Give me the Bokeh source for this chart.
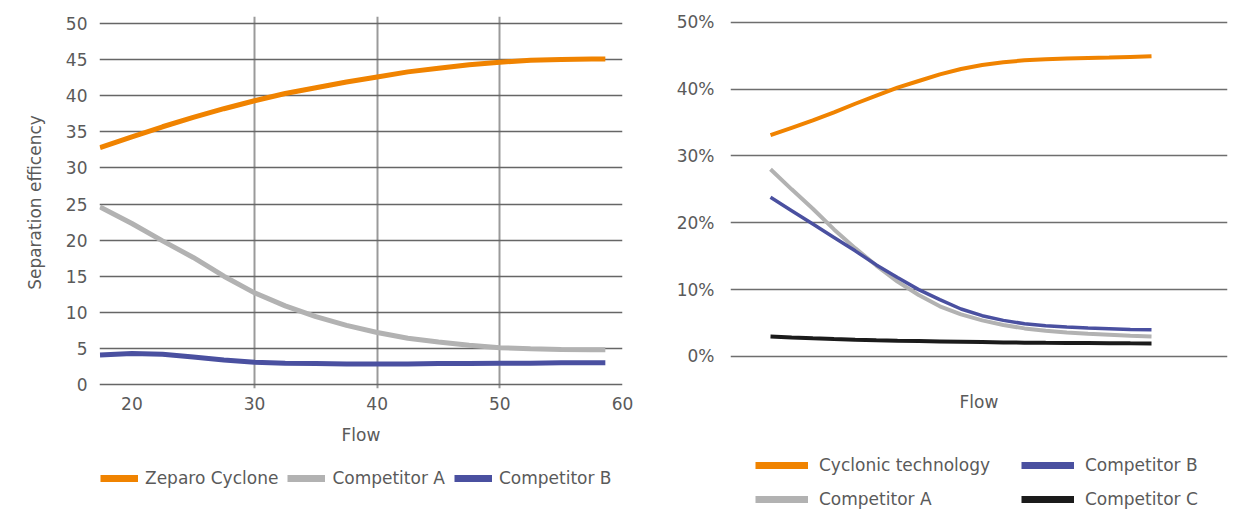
from bokeh.plotting import figure
from bokeh.models import Legend, LegendItem, FixedTicker, PrintfTickFormatter
from bokeh.layouts import row, column
from bokeh.embed import file_html
from bokeh.resources import INLINE

FONT = "DejaVu Sans"
TXT = "#5a5a5a"
ORANGE = "#f08300"
GRAY = "#b2b2b2"
BLUE = "#4a50a0"
BLACK = "#1b1b1b"

# ---------------- left chart data ----------------
left_flow = [17.4, 20, 22.5, 25, 27.5, 30, 32.5, 35, 37.5, 40, 42.5, 45, 47.5, 50, 52.5, 55, 57.5, 58.6]
left_zeparo = [32.8, 34.3, 35.7, 37.0, 38.2, 39.3, 40.3, 41.1, 41.9, 42.6, 43.3, 43.8, 44.3, 44.65, 44.9, 45.0, 45.1, 45.1]
left_comp_a = [24.6, 22.3, 19.9, 17.6, 15.0, 12.7, 10.9, 9.4, 8.2, 7.2, 6.4, 5.9, 5.45, 5.1, 4.95, 4.85, 4.8, 4.8]
left_comp_b = [4.1, 4.3, 4.2, 3.8, 3.4, 3.1, 2.95, 2.9, 2.85, 2.85, 2.85, 2.9, 2.9, 2.95, 2.95, 3.0, 3.0, 3.0]
left_yticks = [0, 5, 10, 15, 20, 25, 30, 35, 40, 45, 50]
left_xticks = [20, 30, 40, 50, 60]
left_xgrid = [30, 40, 50, 60]
left_labels = ["Zeparo Cyclone", "Competitor A", "Competitor B"]

# ---------------- right chart data ----------------
right_flow = [1, 1.5, 2, 2.5, 3, 3.5, 4, 4.5, 5, 5.5, 6, 6.5, 7, 7.5, 8, 8.5, 9, 9.5, 10]
right_cyclonic = [33.1, 34.2, 35.3, 36.5, 37.8, 39.0, 40.2, 41.2, 42.2, 43.0, 43.6, 44.0, 44.3, 44.45, 44.55, 44.65, 44.7, 44.8, 44.9]
right_comp_a = [28.0, 25.0, 22.1, 19.0, 16.2, 13.6, 11.2, 9.2, 7.5, 6.3, 5.4, 4.7, 4.2, 3.85, 3.6, 3.4, 3.25, 3.1, 3.0]
right_comp_b = [23.8, 21.8, 19.8, 17.8, 15.8, 13.7, 11.8, 10.0, 8.5, 7.1, 6.1, 5.4, 4.9, 4.6, 4.4, 4.25, 4.15, 4.05, 4.0]
right_comp_c = [3.0, 2.85, 2.72, 2.6, 2.5, 2.42, 2.35, 2.3, 2.25, 2.2, 2.15, 2.1, 2.07, 2.04, 2.02, 2.0, 1.98, 1.96, 1.95]
right_yticks = [0, 10, 20, 30, 40, 50]
right_labels = ["Cyclonic technology", "Competitor A", "Competitor B", "Competitor C"]


def style_axis(ax):
    ax.axis_line_color = None
    ax.major_tick_line_color = None
    ax.minor_tick_line_color = None
    ax.major_label_text_font = FONT
    ax.major_label_text_font_size = "17px"
    ax.major_label_text_color = TXT
    ax.axis_label_text_font = FONT
    ax.axis_label_text_font_size = "17px"
    ax.axis_label_text_color = TXT
    ax.axis_label_text_font_style = "normal"


def style_legend(lg):
    lg.border_line_color = None
    lg.background_fill_alpha = 0
    lg.label_text_font = FONT
    lg.label_text_font_size = "17px"
    lg.label_text_color = TXT
    lg.padding = 0
    lg.margin = 0


def legend_figure(width, height, xs, series, colors, labels, **legend_kw):
    # a strip below a chart that only carries that chart's legend;
    # its lines are kept outside the visible range so only the swatches show
    lf = figure(width=width, height=height, x_range=(-1000, -999), y_range=(0, 1),
                x_axis_location=None, y_axis_location=None,
                output_backend="svg", toolbar_location=None, min_border=0)
    lf.grid.visible = False
    lf.outline_line_color = None
    items = []
    for ys, c, lab in zip(series, colors, labels):
        r = lf.line(xs, ys, line_color=c, line_width=7)
        items.append(LegendItem(label=lab, renderers=[r]))
    lg = Legend(items=items, **legend_kw)
    style_legend(lg)
    lf.add_layout(lg, "center")
    return lf


# ---------------- left figure ----------------
p1 = figure(width=660, height=470, x_range=(17.36, 60), y_range=(-0.55, 50.97),
            output_backend="svg", toolbar_location=None,
            min_border_left=99, min_border_right=38, min_border_top=16, min_border_bottom=82)
p1.outline_line_color = None
p1.line(left_flow, left_zeparo, line_color=ORANGE, line_width=5)
p1.line(left_flow, left_comp_a, line_color=GRAY, line_width=5)
p1.line(left_flow, left_comp_b, line_color=BLUE, line_width=5)

p1.xaxis.ticker = FixedTicker(ticks=left_xticks)
p1.yaxis.ticker = FixedTicker(ticks=left_yticks)
p1.xgrid.ticker = FixedTicker(ticks=left_xgrid)
p1.xgrid.grid_line_color = "#9a9a9a"
p1.xgrid.grid_line_width = 2
p1.ygrid.grid_line_color = "#666666"
p1.ygrid.grid_line_width = 1.5
for ax in (p1.xaxis[0], p1.yaxis[0]):
    style_axis(ax)
p1.xaxis.axis_label = "Flow"
p1.yaxis.axis_label = "Separation efficency"
p1.xaxis.major_label_standoff = 2
p1.xaxis.axis_label_standoff = 12
p1.yaxis.major_label_standoff = 6
p1.yaxis.axis_label_standoff = 18

# ---------------- right figure ----------------
p2 = figure(width=575, height=448, x_range=(0.055, 11.795), y_range=(-1.5, 51),
            output_backend="svg", toolbar_location=None,
            min_border_left=70, min_border_right=8, min_border_top=15, min_border_bottom=82)
p2.outline_line_color = None
p2.line(right_flow, right_cyclonic, line_color=ORANGE, line_width=4)
p2.line(right_flow, right_comp_a, line_color=GRAY, line_width=4)
p2.line(right_flow, right_comp_b, line_color=BLUE, line_width=3.5)
p2.line(right_flow, right_comp_c, line_color=BLACK, line_width=4)

p2.xaxis.ticker = FixedTicker(ticks=[])
p2.yaxis.ticker = FixedTicker(ticks=right_yticks)
p2.yaxis.formatter = PrintfTickFormatter(format="%d%%")
p2.xgrid.grid_line_color = None
p2.ygrid.grid_line_color = "#6e6e6e"
p2.ygrid.grid_line_width = 1.5
for ax in (p2.xaxis[0], p2.yaxis[0]):
    style_axis(ax)
p2.xaxis.axis_label = "Flow"
p2.xaxis.axis_label_standoff = 25
p2.yaxis.major_label_standoff = 10

# ---------------- legends (their frames line up with the charts above) ----------------
l1 = legend_figure(660, 40, left_flow, [left_zeparo, left_comp_a, left_comp_b],
                   [ORANGE, GRAY, BLUE], left_labels,
                   orientation="horizontal", location=(1, 22),
                   glyph_width=38, glyph_height=20, label_standoff=7, spacing=9)
l2 = legend_figure(575, 62, right_flow, [right_cyclonic, right_comp_a, right_comp_b, right_comp_c],
                   [ORANGE, GRAY, BLUE, BLACK], right_labels,
                   orientation="vertical", ncols=2, location=(25, 1),
                   glyph_width=53, glyph_height=20, label_standoff=11, spacing=14,
                   label_width=188)

layout = row(column(p1, l1), column(p2, l2))
open("out.html", "w").write(file_html(layout, INLINE))
